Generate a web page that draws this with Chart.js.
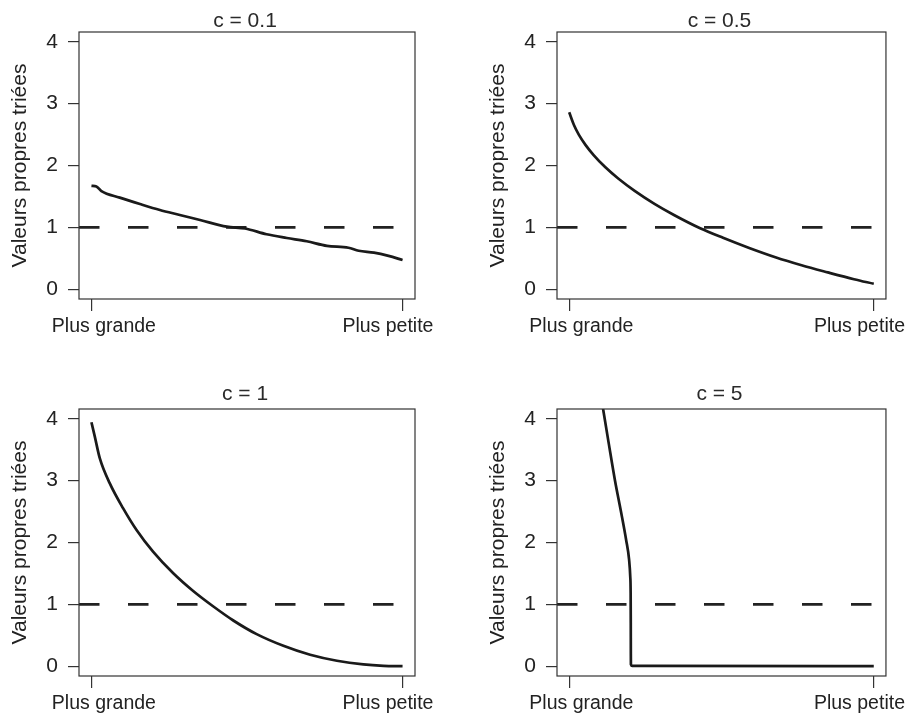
<!DOCTYPE html>
<html>
<head>
<meta charset="utf-8">
<script src="https://cdn.jsdelivr.net/npm/chart.js@4.4.1/dist/chart.umd.min.js"></script>
<style>
  html, body { margin: 0; padding: 0; background: #fff; }
  body { width: 911px; height: 713px; position: relative; overflow: hidden; }
  canvas { position: absolute; }
</style>
</head>
<body>
<canvas id="p0"></canvas>
<canvas id="p1"></canvas>
<canvas id="p2"></canvas>
<canvas id="p3"></canvas>
<script>
// rank as a fraction: 0 = largest eigenvalue, 1 = smallest
const rankC01 = [0, 0.016, 0.032, 0.091, 0.156, 0.22, 0.284, 0.349, 0.435, 0.494, 0.563, 0.628, 0.692, 0.757, 0.826, 0.859, 0.908, 0.955, 1.0];
const valsC01 = [1.67, 1.66, 1.585, 1.48, 1.376, 1.28, 1.2, 1.118, 1.01, 0.98, 0.887, 0.827, 0.774, 0.70, 0.67, 0.62, 0.59, 0.537, 0.47];

const rankC05 = [0, 0.016, 0.032, 0.054, 0.081, 0.118, 0.161, 0.215, 0.28, 0.344, 0.43, 0.505, 0.591, 0.677, 0.763, 0.849, 0.935, 1.0];
const valsC05 = [2.86, 2.65, 2.495, 2.33, 2.165, 1.975, 1.79, 1.59, 1.38, 1.2, 0.985, 0.83, 0.665, 0.515, 0.385, 0.27, 0.16, 0.086];

const rankC1 = [0, 0.011, 0.027, 0.059, 0.102, 0.145, 0.198, 0.263, 0.327, 0.392, 0.456, 0.531, 0.617, 0.703, 0.789, 0.874, 0.939, 1.0];
const valsC1 = [3.946, 3.709, 3.36, 2.956, 2.552, 2.202, 1.852, 1.502, 1.215, 0.964, 0.738, 0.517, 0.328, 0.183, 0.086, 0.027, 0.005, 0.0];

const rankC5 = [0.105, 0.130, 0.1505, 0.170, 0.187, 0.1968, 0.2005, 0.2018, 0.2022, 0.2024, 0.2026, 0.207, 0.25, 1.0];
const valsC5 = [4.35, 3.6, 3.0, 2.5, 2.04, 1.717, 1.448, 1.18, 0.7, 0.2, 0.03, 0.005, 0.004, 0.0];

const titles = ['c = 0.1', 'c = 0.5', 'c = 1', 'c = 5'];
const yTicks = [0, 1, 2, 3, 4];
const xTickLabels = ['Plus grande', 'Plus petite'];
const refLine = 1;
const yTitle = 'Valeurs propres triées';

const FONT = '"Liberation Sans", Arial, Helvetica, sans-serif';
const INK = '#1a1a1a';

// draws the box around the plot and the panel title
const framePlugin = {
    id: 'frame',
    afterDraw(chart, args, opts) {
        const { ctx, chartArea: a } = chart;
        ctx.save();
        ctx.strokeStyle = '#333';
        ctx.lineWidth = 1.2;
        ctx.strokeRect(a.left, a.top, a.right - a.left, a.bottom - a.top);
        ctx.fillStyle = '#2a2a2a';
        ctx.font = '21px ' + FONT;
        ctx.textAlign = 'center';
        ctx.textBaseline = 'alphabetic';
        ctx.fillText(opts.title, (a.left + a.right) / 2 - 2, a.top - opts.gap);
        ctx.restore();
    }
};

function makePanel(idx, rank, vals) {
    const col = idx % 2, row = Math.floor(idx / 2);
    const W = col === 0 ? 478 : 433;
    const H = row === 0 ? 377 : 336;
    const cv = document.getElementById('p' + idx);
    cv.width = W; cv.height = H;
    cv.style.left = (col * 478) + 'px';
    cv.style.top = (row * 377) + 'px';

    const xMin = -0.04, xMax = 1.04;
    const pts = rank.map((r, i) => ({ x: r, y: vals[i] }));

    new Chart(cv.getContext('2d'), {
        type: 'line',
        data: {
            datasets: [{
                data: pts,
                borderColor: INK,
                borderWidth: 2.7,
                pointRadius: 0,
                fill: false,
                cubicInterpolationMode: 'monotone'
            }, {
                data: [{ x: xMin, y: refLine }, { x: xMax, y: refLine }],
                borderColor: '#222',
                borderWidth: 2.8,
                borderDash: [20.5, 28.5],
                borderCapStyle: 'butt',
                pointRadius: 0,
                fill: false
            }]
        },
        options: {
            responsive: false,
            animation: false,
            events: [],
            layout: { padding: { left: 0, top: 32, right: W - 415, bottom: 0 } },
            plugins: {
                legend: { display: false },
                tooltip: { enabled: false },
                frame: { title: titles[idx], gap: row === 0 ? 5 : 9 }
            },
            scales: {
                x: {
                    type: 'linear',
                    position: 'bottom',
                    min: xMin, max: xMax,
                    afterBuildTicks: s => { s.ticks = [{ value: 0 }, { value: 1 }]; },
                    afterFit: s => { s.height = 12; },
                    ticks: { display: false },
                    border: { display: false },
                    grid: { drawOnChartArea: false, drawTicks: true, tickLength: 12, color: '#333', lineWidth: 1.2 }
                },
                xl: {
                    type: 'linear',
                    position: 'bottom',
                    min: xMin, max: xMax,
                    afterBuildTicks: s => { s.ticks = [{ value: 0.04 }, { value: 0.953 }]; },
                    afterFit: s => { s.height = H - 299 - 12; },
                    ticks: {
                        padding: 4,
                        maxRotation: 0,
                        autoSkip: false,
                        color: '#222',
                        font: { family: FONT, size: 19.5 },
                        callback: (v, i) => xTickLabels[i]
                    },
                    border: { display: false },
                    grid: { display: false, drawTicks: false }
                },
                y: {
                    type: 'linear',
                    min: -0.16, max: 4.16,
                    afterBuildTicks: s => { s.ticks = yTicks.map(v => ({ value: v })); },
                    afterFit: s => { s.width = 79; },
                    ticks: {
                        padding: 10,
                        color: '#222',
                        font: { family: FONT, size: 21 },
                        callback: v => String(v)
                    },
                    title: {
                        display: true,
                        text: yTitle,
                        color: '#222',
                        font: { family: FONT, size: 21 },
                        padding: { top: 8, bottom: 0 }
                    },
                    border: { display: false },
                    grid: { drawOnChartArea: false, drawTicks: true, tickLength: 11, color: '#333', lineWidth: 1.2 }
                }
            }
        },
        plugins: [framePlugin]
    });
}

makePanel(0, rankC01, valsC01);
makePanel(1, rankC05, valsC05);
makePanel(2, rankC1, valsC1);
makePanel(3, rankC5, valsC5);
</script>
</body>
</html>
